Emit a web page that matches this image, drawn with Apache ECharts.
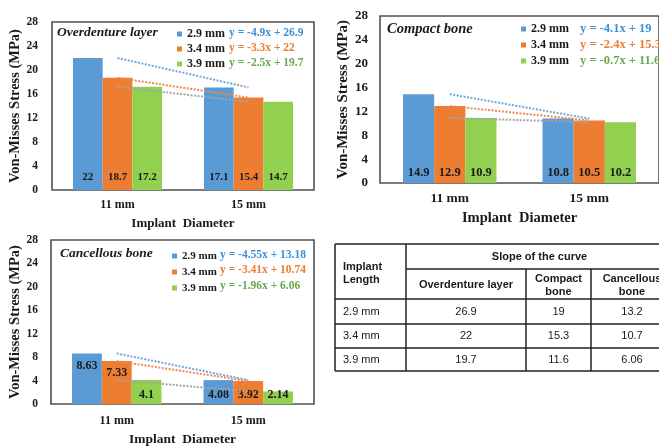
<!DOCTYPE html>
<html>
<head>
<meta charset="utf-8">
<script src="https://cdn.jsdelivr.net/npm/echarts@6/dist/echarts.min.js"></script>
<style>
  html, body { margin: 0; padding: 0; background: #fff; }
  #main { width: 659px; height: 448px; }
</style>
</head>
<body>
<div id="main"></div>
<script>
// Implant diameters on the x axis, implant lengths as the three bar series
const categories = ['11 mm', '15 mm'];
const lengths = ['2.9 mm', '3.4 mm', '3.9 mm'];

// Von-Mises stress (MPa), one row per implant length: [11 mm, 15 mm]
const overdentureStress = [[22, 17.1], [18.7, 15.4], [17.2, 14.7]];
const compactStress = [[14.9, 10.8], [12.9, 10.5], [10.9, 10.2]];
const cancellousStress = [[8.63, 4.08], [7.33, 3.92], [4.1, 2.14]];

// Linear trend equations shown beside each legend entry
const overdentureEq = ['y = -4.9x + 26.9', 'y = -3.3x + 22', 'y = -2.5x + 19.7'];
const compactEq = ['y = -4.1x + 19', 'y = -2.4x + 15.3', 'y = -0.7x + 11.6'];
const cancellousEq = ['y = -4.55x + 13.18', 'y = -3.41x + 10.74', 'y = -1.96x + 6.06'];

// Value axis ticks
const yMin = 0, yMax = 28, yStep = 4;

// Slope table
const tableRowLabels = ['2.9 mm', '3.4 mm', '3.9 mm'];
const slopeOverdenture = ['26.9', '22', '19.7'];
const slopeCompact = ['19', '15.3', '11.6'];
const slopeCancellous = ['13.2', '10.7', '6.06'];

const SERIF = '"Liberation Serif", "Times New Roman", serif';
const SANS = '"Liberation Sans", Arial, sans-serif';
const barColors = ['#5B9BD5', '#ED7D31', '#92D050'];
const trendColors = ['#6FA8DC', '#F08A4B', '#A5A5A5'];
const eqColors = ['#3D8FD6', '#ED7D31', '#6AA84F'];
const INK = '#1a1a1a';

const panels = [
  { title: 'Overdenture layer', stress: overdentureStress, eq: overdentureEq,
    grid: { left: 52, top: 22, width: 262, height: 168 },
    titlePos: [57, 26], legendPos: [177, 28], legendGap: 3, textGap: 3, eqX: 229, rowY: [33, 48, 63],
    gap: '32%', labelDist: 7, tallTop: false,
    fs: { title: 13.5, tick: 11.5, tickMargin: 14, bar: 11, cat: 12, catMargin: 9, xName: 13, xGap: 27,
          yName: 14.5, yGap: 26, legend: 12, eq: 11.5 } },
  { title: 'Compact bone', stress: compactStress, eq: compactEq,
    grid: { left: 380, top: 16, width: 289, height: 167 },
    titlePos: [387, 22], legendPos: [521, 23], legendGap: 4, textGap: 3, eqX: 580, rowY: [29, 45, 61],
    gap: '33%', labelDist: 4, tallTop: false,
    fs: { title: 14.5, tick: 13, tickMargin: 12, bar: 12.5, cat: 13.5, catMargin: 9, xName: 14.5, xGap: 28,
          yName: 15, yGap: 29, legend: 12, eq: 12.5 } },
  { title: 'Cancellous bone', stress: cancellousStress, eq: cancellousEq,
    grid: { left: 51, top: 240, width: 263, height: 167 },
    titlePos: [60, 247], legendPos: [172, 250], legendGap: 4, textGap: 2, eqX: 220, rowY: [255, 270, 286],
    gap: '32%', labelDist: 3, tallTop: true,
    fs: { title: 13.5, tick: 11.5, tickMargin: 13, bar: 12, cat: 12, catMargin: 11, xName: 13.5, xGap: 29,
          yName: 14.5, yGap: 25, legend: 11, eq: 11.5 } }
];

const option = {
  animation: false,
  backgroundColor: '#fff',
  title: [], legend: [], grid: [], xAxis: [], yAxis: [], series: [],
  graphic: []
};

panels.forEach((p, i) => {
  const fs = p.fs;
  option.grid.push(Object.assign({
    show: true, backgroundColor: '#fff', borderColor: '#505050', borderWidth: 1.6,
    containLabel: false
  }, p.grid));

  option.title.push({
    text: p.title, left: p.titlePos[0], top: p.titlePos[1], padding: 0,
    textStyle: { fontFamily: SERIF, fontStyle: 'italic', fontWeight: 'bold', fontSize: fs.title, color: INK }
  });

  option.legend.push({
    data: lengths, orient: 'vertical', left: p.legendPos[0], top: p.legendPos[1],
    padding: 0, itemWidth: 5, itemHeight: 5, itemGap: p.legendGap, itemTextGap: p.textGap,
    icon: 'rect', selectedMode: false,
    textStyle: { fontFamily: SERIF, fontWeight: 'bold', fontSize: fs.legend, color: INK, lineHeight: 12 }
  });

  option.xAxis.push({
    type: 'category', gridIndex: i, data: categories,
    axisTick: { show: false }, axisLine: { show: false },
    axisLabel: { margin: fs.catMargin, fontFamily: SERIF, fontWeight: 'bold', fontSize: fs.cat, color: INK },
    name: 'Implant  Diameter', nameLocation: 'middle', nameGap: fs.xGap,
    nameTextStyle: { fontFamily: SERIF, fontWeight: 'bold', fontSize: fs.xName, color: INK, verticalAlign: 'top' }
  });

  option.yAxis.push({
    type: 'value', gridIndex: i, min: yMin, max: yMax, interval: yStep,
    splitLine: { show: false }, axisLine: { show: false }, axisTick: { show: false },
    axisLabel: { margin: fs.tickMargin, fontFamily: SERIF, fontWeight: 'bold', fontSize: fs.tick, color: INK },
    name: 'Von-Misses Stress (MPa)', nameLocation: 'middle', nameGap: fs.yGap, nameRotate: 90,
    nameTextStyle: { fontFamily: SERIF, fontWeight: 'bold', fontSize: fs.yName, color: INK }
  });

  lengths.forEach((len, k) => {
    option.series.push({
      type: 'bar', name: len, xAxisIndex: i, yAxisIndex: i,
      barGap: '0%', barCategoryGap: p.gap,
      itemStyle: { color: barColors[k] },
      label: {
        show: true, position: 'insideBottom', distance: p.labelDist,
        fontFamily: SERIF, fontWeight: 'bold', fontSize: fs.bar, color: INK
      },
      data: p.stress[k].map(v => (p.tallTop && v > 6)
        ? { value: v, label: { position: 'insideTop', distance: 6 } }
        : v)
    });
  });

  // dotted linear trend through each length's two points
  lengths.forEach((len, k) => {
    option.series.push({
      type: 'line', name: len + ' trend', xAxisIndex: i, yAxisIndex: i,
      data: p.stress[k], symbol: 'none', silent: true, z: 5,
      lineStyle: { type: [2, 1.5], width: 2, color: trendColors[k] },
      itemStyle: { color: trendColors[k] }
    });
  });

  p.eq.forEach((txt, k) => {
    option.graphic.push({
      type: 'text', left: p.eqX, top: p.rowY[k] - fs.eq / 2 - 0.5,
      style: { text: txt, fill: eqColors[k], font: 'bold ' + fs.eq + 'px ' + SERIF }
    });
  });
});

// Slope-of-the-curve table
const tX = [335, 406, 526, 591, 673];
const tY = [244, 269, 299, 324, 348, 371];
const line = (x1, y1, x2, y2) => ({
  type: 'line', shape: { x1, y1, x2, y2 },
  style: { stroke: '#222', lineWidth: 1.5 }
});
const cellText = (txt, x, y, bold, align) => ({
  type: 'text', x, y,
  style: {
    text: txt, font: (bold ? 'bold ' : '') + '11px ' + SANS, fill: INK,
    align: align || 'center', verticalAlign: 'middle', lineHeight: 13
  }
});

const tbl = [];
tbl.push(line(tX[0], tY[0], tX[4], tY[0]));
tbl.push(line(tX[1], tY[1], tX[4], tY[1]));
for (let r = 2; r < tY.length; r++) tbl.push(line(tX[0], tY[r], tX[4], tY[r]));
tbl.push(line(tX[0], tY[0], tX[0], tY[5]));
tbl.push(line(tX[1], tY[0], tX[1], tY[5]));
tbl.push(line(tX[2], tY[1], tX[2], tY[5]));
tbl.push(line(tX[3], tY[1], tX[3], tY[5]));
tbl.push(line(tX[4], tY[0], tX[4], tY[5]));

const colMid = [(tX[1] + tX[2]) / 2, (tX[2] + tX[3]) / 2, (tX[3] + tX[4]) / 2];
tbl.push(cellText('Implant\nLength', 343, 273, true, 'left'));
tbl.push(cellText('Slope of the curve', (tX[1] + tX[4]) / 2, 257, true));
tbl.push(cellText('Overdenture layer', colMid[0], 285, true));
tbl.push(cellText('Compact\nbone', colMid[1], 285, true));
tbl.push(cellText('Cancellous\nbone', colMid[2], 285, true));
const rowMid = [312, 336, 360];
tableRowLabels.forEach((lab, r) => {
  tbl.push(cellText(lab, 343, rowMid[r], false, 'left'));
  tbl.push(cellText(slopeOverdenture[r], colMid[0], rowMid[r], false));
  tbl.push(cellText(slopeCompact[r], colMid[1], rowMid[r], false));
  tbl.push(cellText(slopeCancellous[r], colMid[2], rowMid[r], false));
});
option.graphic.push({ type: 'group', children: tbl });

const chart = echarts.init(document.getElementById('main'), null, { renderer: 'canvas' });
chart.setOption(option);
</script>
</body>
</html>
